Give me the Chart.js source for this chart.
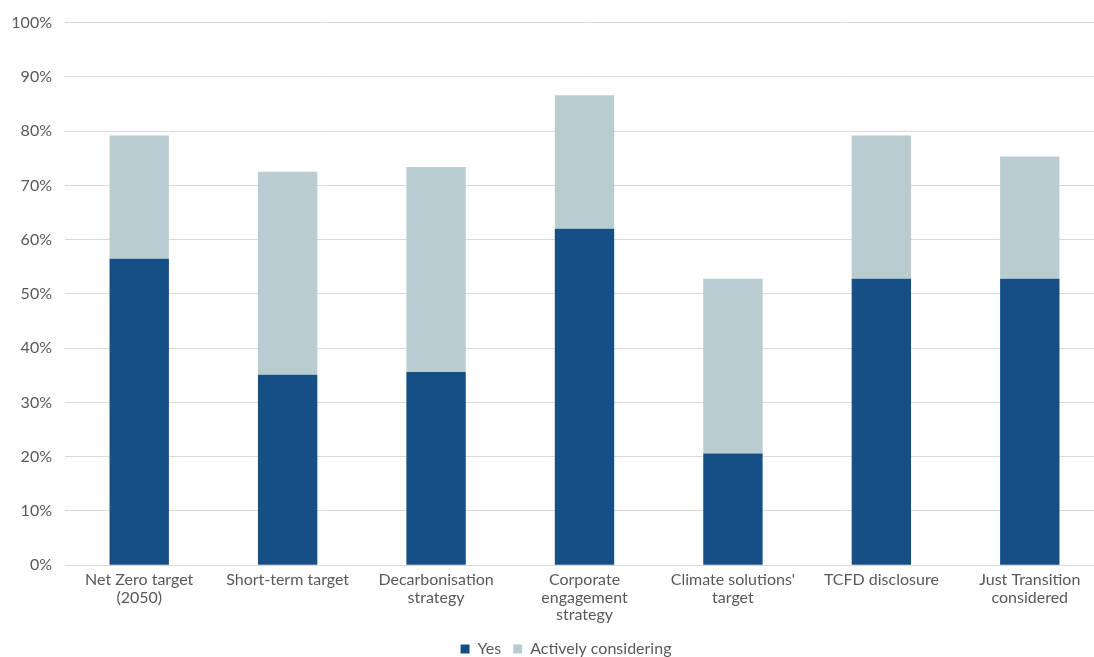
<!DOCTYPE html>
<html>
<head>
<meta charset="utf-8">
<script src="https://cdn.jsdelivr.net/npm/chart.js@4/dist/chart.umd.min.js"></script>
<style>
  html, body { margin: 0; padding: 0; background: #fff; overflow: hidden; }
  #wrap { width: 1104px; height: 667px; }
</style>
</head>
<body>
<div id="wrap"><canvas id="chart1"></canvas></div>
<script>
const categories = [
  ['Net Zero target', '(2050)'],
  'Short-term target',
  ['Decarbonisation', 'strategy'],
  ['Corporate', 'engagement', 'strategy'],
  ["Climate solutions'", 'target'],
  'TCFD disclosure',
  ['Just Transition', 'considered']
];
// share of respondents, in %
const yesValues = [56.5, 35.1, 35.6, 62.0, 20.6, 52.8, 52.8];
const consideringValues = [22.7, 37.4, 37.8, 24.6, 32.2, 26.4, 22.5];
const yTicks = [0, 10, 20, 30, 40, 50, 60, 70, 80, 90, 100];

const fontFamily = 'Lato, "Open Sans", sans-serif';
const textGrey = '#595959';

// nudge the legend a bit to the right of the canvas centre
const legendShift = {
  id: 'legendShift',
  afterLayout(chart) {
    chart.legend.left += 14;
    chart.legend.right += 14;
  }
};

new Chart(document.getElementById('chart1'), {
  type: 'bar',
  data: {
    labels: categories,
    datasets: [{
      label: 'Yes',
      data: yesValues,
      backgroundColor: '#154f85',
      barPercentage: 1,
      categoryPercentage: 0.4
    }, {
      label: 'Actively considering',
      data: consideringValues,
      backgroundColor: '#b9cdd1',
      barPercentage: 1,
      categoryPercentage: 0.4
    }]
  },
  plugins: [legendShift],
  options: {
    responsive: true,
    maintainAspectRatio: false,
    animation: false,
    layout: { padding: { top: 14, right: 0, left: 0, bottom: 0 } },
    plugins: {
      legend: {
        position: 'bottom',
        labels: {
          boxWidth: 9,
          boxHeight: 9,
          padding: 12,
          color: textGrey,
          font: { family: fontFamily, size: 16 }
        }
      },
      tooltip: { enabled: false }
    },
    scales: {
      x: {
        stacked: true,
        grid: { display: false },
        border: { color: '#d9d9d9', width: 1 },
        afterFit: (scale) => { scale.height += 7; },
        ticks: {
          color: textGrey,
          maxRotation: 0,
          autoSkip: false,
          padding: -2,
          font: { family: fontFamily, size: 16, lineHeight: 1.1 }
        }
      },
      y: {
        stacked: true,
        min: 0,
        max: 100,
        afterBuildTicks: (scale) => { scale.ticks = yTicks.map(v => ({ value: v })); },
        afterFit: (scale) => { scale.width = 65; },
        grid: { color: '#d9d9d9', lineWidth: 1, drawTicks: false },
        border: { display: false },
        ticks: {
          color: textGrey,
          padding: 13,
          font: { family: fontFamily, size: 16 },
          callback: (v) => v + '%'
        }
      }
    }
  }
});
</script>
</body>
</html>
